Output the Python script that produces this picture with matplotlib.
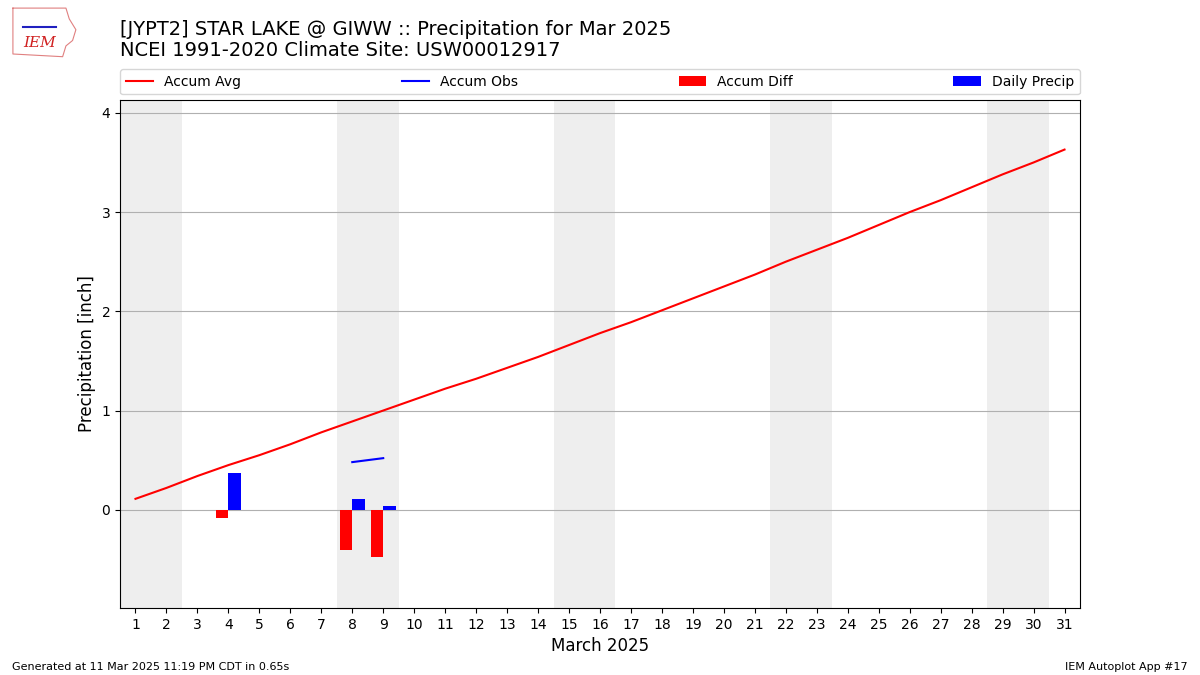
import numpy as np
import matplotlib
matplotlib.use("Agg")
import matplotlib.pyplot as plt

days = np.arange(1, 32)
accum_avg = [0.11, 0.22, 0.34, 0.45, 0.55, 0.66, 0.78, 0.89, 1.00, 1.11,
             1.22, 1.32, 1.43, 1.54, 1.66, 1.78, 1.89, 2.01, 2.13, 2.25,
             2.37, 2.50, 2.62, 2.74, 2.87, 3.00, 3.12, 3.25, 3.38, 3.50, 3.63]
obs_days = [4, 5, 6, 7, 8, 9]
accum_obs = [0.37, np.nan, np.nan, np.nan, 0.48, 0.52]
diff_days = [4, 8, 9]
accum_diff = [-0.08, -0.41, -0.48]
precip_days = [4, 8, 9]
daily_precip = [0.37, 0.11, 0.04]
weekends = [(1, 2), (8, 9), (15, 16), (22, 23), (29, 30)]

fig = plt.figure(figsize=(12, 6.75), dpi=100)
ax = fig.add_axes([0.1, 0.0993, 0.8, 0.7526])

for a, b in weekends:
    ax.axvspan(a - 0.5, b + 0.5, color="#eeeeee", zorder=0, lw=0)

ax.plot(days, accum_avg, color="r", label="Accum Avg", zorder=3)
ax.plot(obs_days, accum_obs, color="b", label="Accum Obs", zorder=3)
ax.bar(np.array(diff_days) - 0.2, accum_diff, width=0.4, color="r",
       label="Accum Diff", zorder=2)
ax.bar(np.array(precip_days) + 0.2, daily_precip, width=0.4, color="b",
       label="Daily Precip", zorder=2)

ax.set_xlim(0.5, 31.5)
ax.set_ylim(-0.99, 4.13)
ax.set_xticks(days)
ax.set_yticks([0, 1, 2, 3, 4])
ax.grid(True, axis="y", color="#b0b0b0", zorder=1)
ax.set_axisbelow(True)
ax.set_xlabel("March 2025", fontsize=12)
ax.set_ylabel("Precipitation [inch]", fontsize=12)

ax.legend(loc="lower left", bbox_to_anchor=(0, 1.011, 1, 0.05), ncol=4,
          mode="expand", borderaxespad=0, fontsize=10)

fig.text(0.1, 0.97, "[JYPT2] STAR LAKE @ GIWW :: Precipitation for Mar 2025\n"
         "NCEI 1991-2020 Climate Site: USW00012917",
         fontsize=14, va="top", ha="left", linespacing=1.15)

# rough stand-in for the IEM logo
logo = fig.add_axes([0.008, 0.912, 0.058, 0.08])
logo.plot([0.05, 0.85, 0.9, 1.0, 0.95, 0.85, 0.8, 0.05, 0.05],
          [0.95, 0.95, 0.75, 0.55, 0.35, 0.25, 0.05, 0.1, 0.95],
          color="#e08080", lw=0.8)
logo.text(0.45, 0.3, "IEM", color="#d02020", fontsize=11, style="italic",
          family="DejaVu Serif", ha="center", va="center")
logo.plot([0.2, 0.7], [0.6, 0.6], color="#2020c0", lw=1.5)
logo.set_xlim(0, 1.05)
logo.set_ylim(0, 1)
logo.axis("off")

fig.text(0.01, 0.008, "Generated at 11 Mar 2025 11:19 PM CDT in 0.65s",
         fontsize=8)
fig.text(0.99, 0.008, "IEM Autoplot App #17", fontsize=8, ha="right")

fig.savefig("out.png", dpi=100)
